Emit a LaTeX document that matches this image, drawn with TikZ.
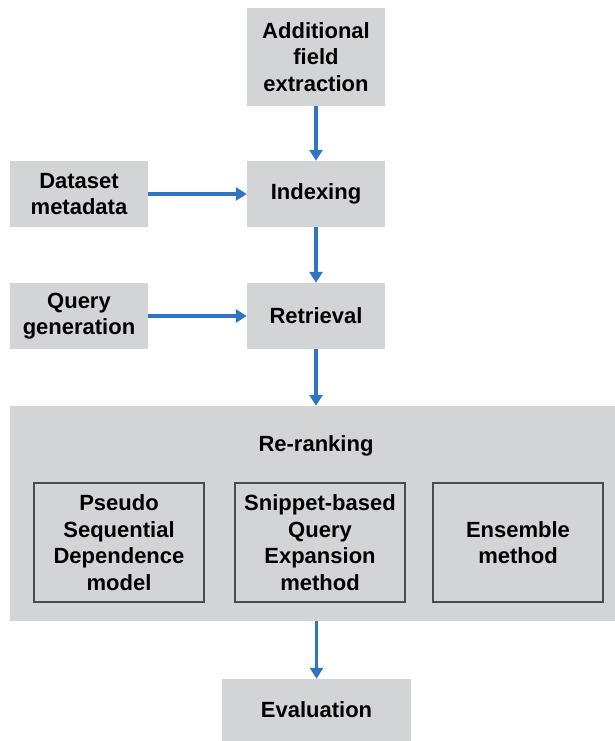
\documentclass[tikz,border=0pt]{standalone}
\usepackage{fontspec}
\setmainfont{Liberation Sans}
\usetikzlibrary{arrows.meta}
\definecolor{boxgray}{HTML}{D3D4D6}
\definecolor{arrblue}{HTML}{2F75BF}
\definecolor{edgegray}{HTML}{4A4A4A}
\begin{document}
\begin{tikzpicture}[x=1pt,y=-1pt,
  every node/.style={font=\fontsize{22}{26.7}\selectfont\bfseries, align=center, inner sep=0pt},
  gbox/.style={fill=boxgray, draw=none, minimum width=138pt, minimum height=66pt},
  ibox/.style={draw=edgegray, line width=1.2pt, minimum width=170pt, minimum height=119pt},
  arr/.style={draw=arrblue, line width=3.2pt, -{Triangle[length=11pt,width=13pt]}}
]
\useasboundingbox (0,0) rectangle (615,741);
\node[gbox, minimum height=98pt] (ext) at (316,57) {Additional\\field\\extraction};
\node[gbox] (idx) at (316,194) {Indexing};
\node[gbox] (ds) at (79,194) {Dataset\\metadata};
\node[gbox] (qg) at (79,316) {Query\\generation};
\node[gbox] (ret) at (316,316) {Retrieval};
\node[fill=boxgray, minimum width=605pt, minimum height=215pt] (rr) at (312.5,513.5) {};
\node (rrl) at (316,446) {Re-ranking};
\node[ibox] (p1) at (119,542.5) {Pseudo\\Sequential\\Dependence\\model};
\node[ibox] (p2) at (320,542.5) {Snippet-based\\Query\\Expansion\\method};
\node[ibox] (p3) at (518,542.5) {Ensemble\\method};
\node[gbox, minimum width=189pt, minimum height=62pt] (ev) at (316.5,710) {Evaluation};
\draw[arr] (ext.south) -- (idx.north);
\draw[arr] (ds.east) -- (idx.west);
\draw[arr] (idx.south) -- (ret.north);
\draw[arr] (qg.east) -- (ret.west);
\draw[arr] (ret.south) -- (ret.south |- rr.north);
\draw[arr] (ev.north |- rr.south) -- (ev.north);
\end{tikzpicture}
\end{document}
